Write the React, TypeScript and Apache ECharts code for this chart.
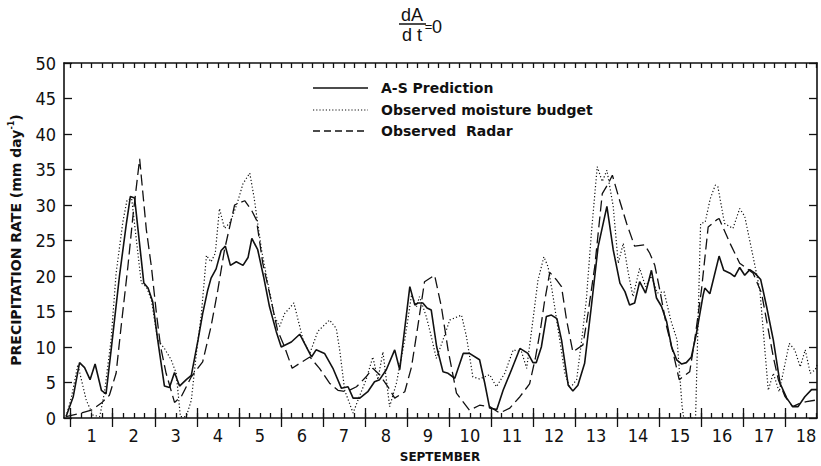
import React, { useEffect, useRef } from 'react';
import * as echarts from 'echarts';

// Time in days of September (integer = 00Z of that day), rate in mm/day.
const asPredDays = [0.89, 1.06, 1.21, 1.33, 1.46, 1.58, 1.73, 1.84, 1.96, 2.16, 2.32, 2.42, 2.52, 2.74, 2.84, 2.95, 3.07, 3.23, 3.35, 3.47, 3.59, 3.75, 3.87, 4.03, 4.14, 4.26, 4.34, 4.46, 4.58, 4.68, 4.8, 4.94, 5.1, 5.22, 5.31, 5.45, 5.59, 5.73, 5.89, 6.01, 6.25, 6.45, 6.73, 6.84, 7.04, 7.24, 7.44, 7.6, 7.72, 7.88, 8.07, 8.23, 8.35, 8.51, 8.71, 8.83, 9.07, 9.19, 9.26, 9.38, 9.48, 9.58, 9.71, 9.86, 9.98, 10.14, 10.34, 10.49, 10.73, 10.85, 10.97, 11.14, 11.29, 11.49, 11.69, 11.88, 12.0, 12.08, 12.2, 12.32, 12.44, 12.57, 12.68, 12.84, 12.95, 13.07, 13.23, 13.39, 13.55, 13.76, 13.91, 14.07, 14.19, 14.3, 14.42, 14.54, 14.68, 14.82, 14.94, 15.06, 15.18, 15.3, 15.42, 15.54, 15.65, 15.77, 15.89, 16.05, 16.09, 16.21, 16.43, 16.54, 16.69, 16.8, 16.92, 17.04, 17.16, 17.28, 17.42, 17.56, 17.72, 17.88, 18.04, 18.18, 18.31, 18.47, 18.63, 18.76];
const asPredRate = [0.2, 3.0, 7.8, 7.1, 5.4, 7.6, 3.9, 3.4, 9.5, 20.0, 27.2, 31.2, 31.0, 19.0, 18.3, 16.4, 11.0, 4.5, 4.3, 6.4, 4.5, 5.4, 6.0, 11.0, 14.7, 18.0, 19.7, 21.0, 23.6, 24.2, 21.5, 22.0, 21.5, 22.6, 25.3, 23.7, 19.9, 15.7, 12.2, 10.0, 10.7, 11.8, 8.6, 9.6, 9.1, 7.0, 4.2, 4.4, 2.8, 2.8, 3.7, 5.1, 5.4, 6.8, 9.6, 6.8, 18.5, 15.9, 16.2, 16.2, 15.5, 15.2, 10.0, 6.5, 6.3, 5.6, 9.1, 9.1, 8.2, 5.0, 1.4, 1.2, 3.9, 6.8, 9.8, 9.1, 7.8, 7.8, 10.0, 14.3, 14.5, 14.0, 11.0, 4.6, 3.8, 4.6, 7.7, 15.7, 24.1, 29.8, 23.7, 19.0, 17.8, 15.9, 16.2, 19.2, 17.6, 20.8, 16.9, 15.7, 13.6, 10.0, 8.2, 7.6, 7.8, 8.6, 11.9, 17.3, 18.3, 17.5, 22.8, 20.8, 20.4, 19.9, 21.2, 20.1, 20.9, 20.4, 19.5, 15.7, 11.0, 4.9, 2.8, 1.6, 1.6, 3.0, 4.0, 4.0];

const budgetDays = [0.89, 1.02, 1.17, 1.37, 1.53, 1.69, 1.8, 1.96, 2.08, 2.24, 2.34, 2.45, 2.68, 2.8, 2.92, 3.07, 3.23, 3.39, 3.51, 3.61, 3.75, 3.87, 3.99, 4.11, 4.23, 4.34, 4.44, 4.54, 4.66, 4.8, 4.96, 5.1, 5.26, 5.36, 5.54, 5.69, 5.85, 5.97, 6.09, 6.21, 6.31, 6.53, 6.69, 6.88, 7.16, 7.32, 7.4, 7.52, 7.72, 7.88, 8.03, 8.19, 8.31, 8.43, 8.59, 8.75, 8.95, 9.11, 9.23, 9.3, 9.46, 9.56, 9.7, 9.86, 10.02, 10.3, 10.42, 10.57, 10.73, 10.97, 11.13, 11.33, 11.53, 11.73, 11.85, 12.0, 12.12, 12.26, 12.36, 12.48, 12.6, 12.76, 12.88, 13.04, 13.15, 13.27, 13.39, 13.53, 13.65, 13.76, 13.91, 14.03, 14.15, 14.27, 14.38, 14.54, 14.68, 14.82, 14.96, 15.12, 15.28, 15.43, 15.55, 15.59, 15.87, 15.99, 16.1, 16.22, 16.34, 16.4, 16.56, 16.76, 16.92, 17.04, 17.24, 17.4, 17.6, 17.72, 17.86, 18.1, 18.23, 18.36, 18.48, 18.6, 18.72, 18.76];
const budgetRate = [0.2, 3.0, 7.5, 2.5, 0.4, 0.2, 3.5, 11.0, 20.4, 27.6, 30.7, 30.9, 19.0, 18.5, 16.6, 11.0, 9.8, 8.2, 6.3, 0.2, 0.2, 2.5, 9.1, 14.7, 22.9, 22.0, 23.2, 29.5, 26.7, 27.6, 30.2, 33.0, 34.5, 31.2, 23.7, 19.0, 14.3, 12.9, 14.7, 15.5, 16.2, 11.0, 9.1, 12.2, 13.8, 12.6, 9.6, 3.9, 0.7, 3.2, 5.4, 8.6, 5.4, 9.3, 1.6, 4.9, 11.0, 17.3, 15.7, 17.1, 14.3, 12.0, 8.4, 11.0, 13.8, 14.5, 11.4, 5.8, 5.5, 6.1, 4.4, 6.3, 9.6, 9.3, 7.0, 13.8, 19.4, 22.7, 21.3, 17.1, 12.4, 6.3, 4.2, 5.4, 10.5, 16.6, 26.0, 35.4, 33.3, 34.9, 29.8, 21.8, 24.6, 20.4, 17.1, 21.1, 18.5, 20.0, 17.6, 17.8, 13.8, 11.0, 1.6, 0.0, 0.0, 27.4, 27.6, 30.9, 32.8, 32.6, 27.4, 26.7, 29.5, 28.4, 22.7, 18.0, 3.9, 6.3, 3.7, 10.5, 9.6, 7.2, 9.6, 6.3, 6.8, 7.5];

const radarDays = [0.89, 1.25, 1.49, 1.73, 1.92, 2.08, 2.2, 2.36, 2.48, 2.64, 2.8, 2.92, 3.04, 3.14, 3.27, 3.47, 3.63, 3.87, 4.14, 4.34, 4.5, 4.66, 4.9, 5.14, 5.3, 5.42, 5.57, 5.73, 5.92, 6.09, 6.27, 6.45, 6.69, 6.92, 7.16, 7.36, 7.56, 7.8, 8.03, 8.19, 8.35, 8.55, 8.71, 8.95, 9.11, 9.26, 9.42, 9.66, 9.82, 9.98, 10.18, 10.49, 10.73, 10.97, 11.21, 11.45, 11.69, 11.92, 12.06, 12.18, 12.27, 12.4, 12.57, 12.68, 12.8, 12.95, 13.19, 13.31, 13.47, 13.65, 13.79, 13.89, 14.07, 14.23, 14.42, 14.66, 14.78, 14.9, 15.02, 15.18, 15.34, 15.48, 15.73, 15.85, 16.01, 16.17, 16.37, 16.43, 16.69, 16.92, 17.24, 17.44, 17.72, 17.84, 18.0, 18.18, 18.36, 18.51, 18.71];
const radarRate = [0.2, 0.7, 1.1, 2.1, 3.2, 6.3, 12.9, 21.3, 28.4, 36.5, 26.5, 21.3, 14.7, 10.0, 6.3, 2.2, 3.0, 5.8, 7.9, 12.9, 18.0, 23.7, 30.0, 30.6, 29.3, 27.9, 21.8, 17.6, 12.4, 10.0, 7.0, 7.7, 8.6, 7.0, 4.9, 3.9, 3.7, 4.4, 5.8, 7.0, 6.1, 4.4, 2.8, 3.7, 7.2, 12.9, 19.2, 20.1, 15.7, 9.6, 3.5, 1.1, 1.8, 1.6, 0.7, 1.4, 3.0, 4.8, 8.5, 12.5, 16.2, 20.5, 19.4, 18.5, 13.8, 9.3, 10.3, 14.7, 21.3, 31.6, 33.0, 34.2, 30.5, 27.4, 24.2, 24.4, 23.2, 21.5, 18.0, 12.9, 9.1, 5.4, 6.5, 11.0, 18.0, 26.9, 27.9, 28.1, 24.6, 21.8, 20.4, 17.6, 8.6, 5.4, 3.0, 1.6, 2.1, 2.3, 2.5];

const seriesNames = ['A-S Prediction', 'Observed moisture budget', 'Observed  Radar'];
const dayNumbers = [1, 2, 3, 4, 5, 6, 7, 8, 9, 10, 11, 12, 13, 14, 15, 16, 17, 18];

const X_MIN = 0.84;
const X_MAX = 18.76;
const INK = '#111';
const NARROW = "'Liberation Sans Narrow', 'DejaVu Sans Condensed', 'Liberation Sans', sans-serif";
const BOLD = "'DejaVu Sans', 'Liberation Sans', sans-serif";
const PLAIN = "'Liberation Sans', sans-serif";

const zip = (xs: number[], ys: number[]) => xs.map((x, i) => [x, ys[i]]);

// tick positions: every 6 h, day boundaries drawn taller, day numbers centred on each day
const quarterTicks: number[] = [];
for (let q = 4; q <= 75; q++) quarterTicks.push(q / 4);
const labelAt = dayNumbers.map((d) => d + 0.5);

const solidStyle = { color: INK, width: 1.6, type: 'solid' as const };
const dottedStyle = { color: INK, width: 1.2, type: [1.2, 2.2] };
const dashedStyle = { color: INK, width: 1.3, type: [11, 5] };

export default function App() {
  const ref = useRef<HTMLDivElement>(null);

  useEffect(() => {
    if (!ref.current) return;
    const chart = echarts.init(ref.current, undefined, { renderer: 'svg' });

    const frameLine = { show: true, onZero: false, lineStyle: { color: INK, width: 1.6 } };
    const tickLine = { color: INK, width: 1.3 };
    const baseX = {
      type: 'value' as const,
      min: X_MIN,
      max: X_MAX,
      splitLine: { show: false },
    };

    // legend rows: key line + label
    const legendRows = [
      { name: seriesNames[0], y: 88, dash: null as number[] | null, width: 1.6 },
      { name: seriesNames[1], y: 110, dash: [1.2, 2], width: 1.2 },
      { name: seriesNames[2], y: 131, dash: [7, 4], width: 1.3 },
    ];
    const legendGraphics = legendRows.flatMap((r) => [
      {
        type: 'line',
        shape: { x1: 313, y1: r.y, x2: 368, y2: r.y },
        style: { stroke: INK, lineWidth: r.width, lineDash: r.dash || undefined },
      },
      {
        type: 'text',
        x: 381,
        y: r.y,
        style: { text: r.name, fontFamily: BOLD, fontWeight: 'bold', fontSize: 14, fill: INK, align: 'left', verticalAlign: 'middle' },
      },
    ]);

    chart.setOption({
      animation: false,
      backgroundColor: '#fff',
      grid: { left: 64, top: 63, right: 4, bottom: 48, outerBoundsMode: 'none' },
      xAxis: [
        {
          ...baseX,
          position: 'bottom',
          axisLine: frameLine,
          axisTick: { show: true, inside: true, length: 5, customValues: quarterTicks, lineStyle: tickLine },
          axisLabel: {
            show: true,
            customValues: labelAt,
            formatter: (v: number) => String(Math.floor(v)),
            margin: 8,
            fontFamily: NARROW,
            fontSize: 18,
            lineHeight: 18,
            color: INK,
          },
        },
        {
          ...baseX,
          position: 'bottom',
          axisLine: { show: false },
          axisTick: { show: true, inside: true, length: 10, customValues: dayNumbers, lineStyle: tickLine },
          axisLabel: { show: false },
        },
        {
          ...baseX,
          position: 'top',
          axisLine: frameLine,
          axisTick: { show: true, inside: true, length: 5, customValues: quarterTicks, lineStyle: tickLine },
          axisLabel: { show: false },
        },
        {
          ...baseX,
          position: 'top',
          axisLine: { show: false },
          axisTick: { show: true, inside: true, length: 9, customValues: dayNumbers, lineStyle: tickLine },
          axisLabel: { show: false },
        },
      ],
      yAxis: [
        {
          type: 'value',
          position: 'left',
          min: 0,
          max: 50,
          interval: 5,
          splitLine: { show: false },
          axisLine: frameLine,
          axisTick: { show: true, inside: true, length: 8, lineStyle: tickLine },
          axisLabel: { margin: 8, fontFamily: NARROW, fontSize: 18, color: INK },
        },
        {
          type: 'value',
          position: 'right',
          min: 0,
          max: 50,
          interval: 5,
          splitLine: { show: false },
          axisLine: frameLine,
          axisTick: { show: true, inside: true, length: 8, lineStyle: tickLine },
          axisLabel: { show: false },
        },
      ],
      series: [
        {
          name: seriesNames[1],
          type: 'line',
          data: zip(budgetDays, budgetRate),
          showSymbol: false,
          symbol: 'none',
          lineStyle: dottedStyle,
          z: 2,
        },
        {
          name: seriesNames[2],
          type: 'line',
          data: zip(radarDays, radarRate),
          showSymbol: false,
          symbol: 'none',
          lineStyle: dashedStyle,
          z: 3,
        },
        {
          name: seriesNames[0],
          type: 'line',
          data: zip(asPredDays, asPredRate),
          showSymbol: false,
          symbol: 'none',
          lineStyle: solidStyle,
          z: 4,
        },
      ],
      graphic: [
        { type: 'text', x: 412, y: 15, style: { text: 'dA', fontFamily: PLAIN, fontSize: 18, fill: INK, align: 'center', verticalAlign: 'middle' } },
        { type: 'line', shape: { x1: 399, y1: 24, x2: 426, y2: 24 }, style: { stroke: INK, lineWidth: 1.5 } },
        { type: 'text', x: 412, y: 35, style: { text: 'd t', fontFamily: PLAIN, fontSize: 18, fill: INK, align: 'center', verticalAlign: 'middle' } },
        { type: 'text', x: 428.5, y: 26, style: { text: '=', fontFamily: PLAIN, fontSize: 13, fill: INK, align: 'center', verticalAlign: 'middle' } },
        { type: 'text', x: 437, y: 26.5, style: { text: '0', fontFamily: PLAIN, fontSize: 18, fill: INK, align: 'center', verticalAlign: 'middle' } },
        ...legendGraphics,
        {
          type: 'text',
          x: 16,
          y: 240,
          rotation: Math.PI / 2,
          style: {
            text: '{b|PRECIPITATION RATE (mm day}{s|-1}{b|)}',
            align: 'center',
            verticalAlign: 'middle',
            rich: {
              b: { fontFamily: BOLD, fontWeight: 'bold', fontSize: 14, fill: INK, lineHeight: 17 },
              s: { fontFamily: BOLD, fontWeight: 'bold', fontSize: 8, fill: INK, verticalAlign: 'top', lineHeight: 17 },
            },
          },
        },
        { type: 'text', x: 440, y: 457, style: { text: 'SEPTEMBER', fontFamily: BOLD, fontWeight: 'bold', fontSize: 12, fill: INK, align: 'center', verticalAlign: 'middle' } },
      ],
    });

    return () => chart.dispose();
  }, []);

  return <div ref={ref} style={{ position: 'fixed', left: 0, top: 0, width: 821, height: 466 }} />;
}
